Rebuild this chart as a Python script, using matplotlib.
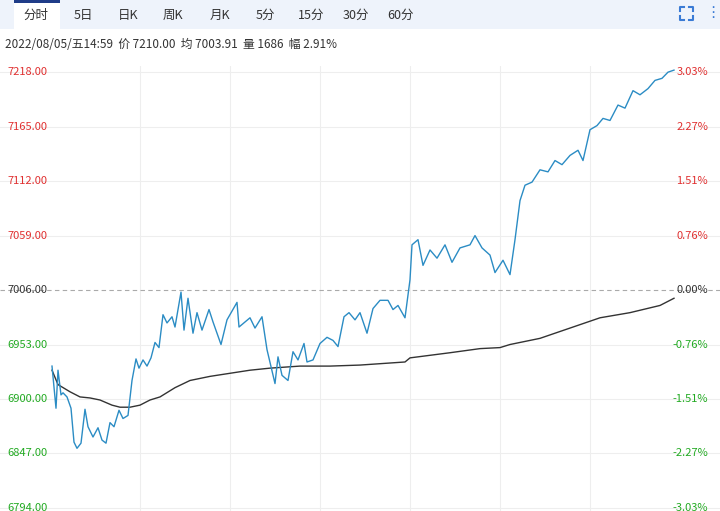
import matplotlib
matplotlib.use('Agg')
import matplotlib.pyplot as plt
from matplotlib.patches import Rectangle
from matplotlib.lines import Line2D

plt.rcParams['font.family'] = ['Noto Sans CJK SC', 'DejaVu Sans']

# session position (0..720 scale of the chart width) and prices
t = [52, 56, 58, 61, 63, 67, 71, 74, 77, 81, 85, 88, 93, 98, 102, 106, 110, 114, 119, 123,
     128, 132, 136, 139, 143, 147, 151, 155, 159, 163, 167, 172, 175, 181, 184, 188, 193, 197, 202, 209,
     213, 221, 227, 237, 239, 250, 255, 262, 267, 275, 278, 282, 288, 293, 298, 304, 307, 313, 320, 327,
     333, 338, 344, 349, 355, 360, 367, 373, 380, 388, 393, 398, 405, 410, 412, 418, 423, 430, 437, 445,
     452, 460, 470, 475, 482, 490, 495, 503, 510, 515, 520, 525, 532, 540, 548, 555, 562, 570, 578, 583,
     590, 597, 603, 610, 618, 625, 633, 640, 648, 655, 662, 668, 674]
price = [6932, 6891, 6928, 6904, 6906, 6902, 6891, 6858, 6852, 6857, 6890, 6873, 6863, 6872, 6860, 6857, 6877, 6873, 6889, 6881,
         6884, 6918, 6939, 6930, 6938, 6932, 6940, 6955, 6950, 6982, 6974, 6980, 6970, 7004, 6967, 6998, 6964, 6984, 6967, 6987,
         6975, 6953, 6977, 6994, 6970, 6979, 6969, 6980, 6948, 6915, 6941, 6923, 6918, 6946, 6938, 6954, 6936, 6938, 6954, 6960,
         6957, 6951, 6980, 6984, 6977, 6984, 6964, 6988, 6996, 6996, 6987, 6991, 6979, 7016, 7050, 7055, 7030, 7045, 7037, 7050,
         7033, 7047, 7050, 7059, 7047, 7040, 7023, 7035, 7021, 7055, 7093, 7108, 7111, 7123, 7121, 7132, 7128, 7137, 7142, 7132,
         7162, 7166, 7173, 7171, 7186, 7183, 7200, 7196, 7202, 7210, 7212, 7218, 7220]
t_avg = [52, 58, 70, 80, 90, 100, 112, 120, 130, 140, 150, 160, 175, 190, 210, 230, 250, 270, 300, 330,
         360, 390, 405, 410, 450, 480, 500, 510, 540, 570, 600, 630, 660, 674]
avg = [6928, 6914, 6907, 6902, 6901, 6899, 6894, 6892, 6892, 6894, 6899, 6902, 6911, 6918, 6922, 6925, 6928, 6930, 6932, 6932,
       6933, 6935, 6936, 6940, 6945, 6949, 6950, 6953, 6959, 6969, 6979, 6984, 6991, 6998]

levels = [7218.00, 7165.00, 7112.00, 7059.00, 7006.00, 6953.00, 6900.00, 6847.00, 6794.00]
pcts = ['3.03%', '2.27%', '1.51%', '0.76%', '0.00%', '-0.76%', '-1.51%', '-2.27%', '-3.03%']
tabs = ['分时', '5日', '日K', '周K', '月K', '5分', '15分', '30分', '60分']
info = '2022/08/05/五14:59  价 7210.00  均 7003.91  量 1686  幅 2.91%'
base = 7006.00

W, H = 720, 511
fig = plt.figure(figsize=(7.2, 5.11), dpi=100)


def fx(x):
    return x / W


def fy(y):
    return 1 - y / H


# toolbar band
fig.patches.append(Rectangle((0, fy(29)), 1, 29 / H, transform=fig.transFigure, fc='#eef3fb', ec='none'))
fig.patches.append(Rectangle((fx(14), fy(29)), 46 / W, 29 / H, transform=fig.transFigure, fc='white', ec='none'))
fig.patches.append(Rectangle((fx(14), fy(3)), 46 / W, 3 / H, transform=fig.transFigure, fc='#1f3c88', ec='none'))
tab_x = [36, 83, 128, 173, 220, 265, 311, 356, 401]
for x, s in zip(tab_x, tabs):
    fig.text(fx(x), fy(15), s, ha='center', va='center', fontsize=9, color='#333333')

# fullscreen icon (corner brackets) and menu dots
ic = '#3a7bd5'
for cx, cy, dx, dy in [(680, 7, 1, 1), (693, 7, -1, 1), (680, 20, 1, -1), (693, 20, -1, -1)]:
    fig.add_artist(Line2D([fx(cx), fx(cx), fx(cx + 4 * dx)], [fy(cy + 4 * dy), fy(cy), fy(cy)],
                          color=ic, lw=1.5))
fig.text(fx(713), fy(13), '⋮', ha='center', va='center', fontsize=11, color=ic, family=['DejaVu Sans'])
fig.text(fx(5), fy(44), info, ha='left', va='center', fontsize=8.5, color='#333333')

ax = fig.add_axes([0, 0, 1, 445 / H])
ax.set_xlim(0, 720)
ax.set_ylim(6791, 7224)
for s in ax.spines.values():
    s.set_visible(False)
ax.set_xticks([])
ax.set_yticks([])
for lv in levels:
    if lv != base:
        ax.axhline(lv, color='#eeeeee', lw=0.8, zorder=0)
for gx in [140, 230, 320, 410, 500, 590]:
    ax.axvline(gx, color='#eeeeee', lw=0.8, zorder=0)
ax.axhline(base, color='#aaaaaa', lw=0.8, ls=(0, (4, 3)), zorder=1)

ax.plot(t, price, color='#2b8cc4', lw=1.0, zorder=3)
ax.plot(t_avg, avg, color='#333333', lw=1.0, zorder=2)

for lv, p in zip(levels, pcts):
    c = '#e03030' if lv > base else ('#333333' if lv == base else '#22aa22')
    ax.text(7, lv, f'{lv:.2f}', ha='left', va='center', fontsize=8, color=c)
    ax.text(708, lv, p, ha='right', va='center', fontsize=8, color=c)

fig.savefig('out.png', dpi=100)
